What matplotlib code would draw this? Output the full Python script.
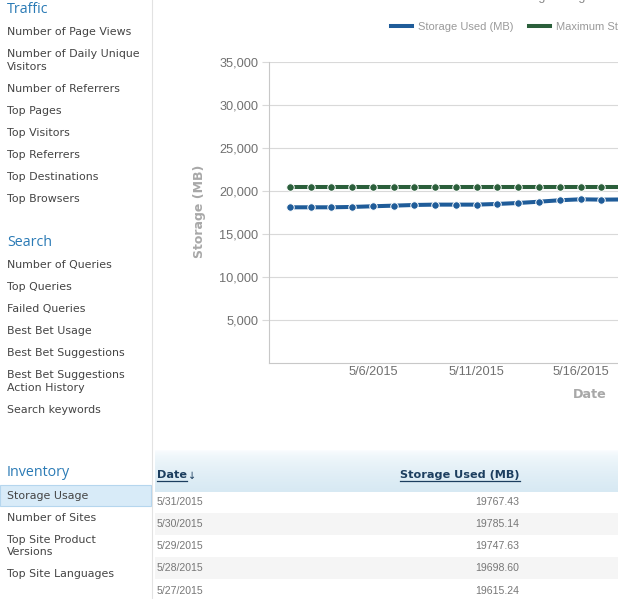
#!/usr/bin/env python3
import datetime as dt
import matplotlib
matplotlib.use("Agg")
import matplotlib.pyplot as plt
import matplotlib.dates as mdates
from matplotlib.lines import Line2D
from matplotlib.patches import Rectangle
from matplotlib.ticker import FuncFormatter, FixedLocator
import numpy as np

W, H = 618, 599

# left navigation menu
sections = ["Traffic", "Search", "Inventory"]
section_items = [
    ["Number of Page Views", "Number of Daily Unique\nVisitors", "Number of Referrers",
     "Top Pages", "Top Visitors", "Top Referrers", "Top Destinations", "Top Browsers"],
    ["Number of Queries", "Top Queries", "Failed Queries", "Best Bet Usage",
     "Best Bet Suggestions", "Best Bet Suggestions\nAction History", "Search keywords"],
    ["Storage Usage", "Number of Sites", "Top Site Product\nVersions", "Top Site Languages"],
]
selected_item = "Storage Usage"

# chart data (visible part of the chart)
chart_dates = [dt.date(2015, 5, d) for d in range(2, 19)]
storage_used = [18140, 18140, 18140, 18180, 18260, 18330, 18410, 18450, 18450,
                18450, 18530, 18640, 18790, 18960, 19070, 19030, 19050]
max_storage = [20480, 20480, 20480, 20480, 20480, 20480, 20480, 20480, 20480,
               20480, 20480, 20480, 20480, 20480, 20480, 20480, 20480]
series_names = ["Storage Used (MB)", "Maximum Storage (MB)"]
y_ticks = [5000, 10000, 15000, 20000, 25000, 30000, 35000]
x_ticks = [dt.date(2015, 5, 6), dt.date(2015, 5, 11), dt.date(2015, 5, 16)]

# table below the chart
table_headers = ["Date", "Storage Used (MB)"]
table_dates = ["5/31/2015", "5/30/2015", "5/29/2015", "5/28/2015", "5/27/2015"]
table_used = [19767.43, 19785.14, 19747.63, 19698.60, 19615.24]

BLUE = "#1f5c99"
GREEN = "#2b5f3b"
GRID = "#d9d9d9"

fig = plt.figure(figsize=(W / 100, H / 100), dpi=100)
fig.patch.set_facecolor("white")

# background layer in pixel coordinates
bg = fig.add_axes([0, 0, 1, 1])
bg.set_xlim(0, W)
bg.set_ylim(H, 0)
bg.axis("off")

# sidebar border
bg.plot([151.5, 151.5], [0, H], color="#e2e2e2", lw=0.8)

# sidebar menu
sec_y = [9.3, 242.3, 472.7]
for name, items, y0 in zip(sections, section_items, sec_y):
    bg.text(7, y0, name, family="Open Sans", fontsize=10.3, color="#2a7ab5",
            ha="left", va="center")
    y = y0 + 23
    for item in items:
        lines = item.split("\n")
        if item == selected_item:
            bg.add_patch(Rectangle((0, y - 10.5), 151, 21, fc="#d8ebf8",
                                   ec="#b5d6ee", lw=0.8))
        for i, ln in enumerate(lines):
            bg.text(7, y + i * 12.6, ln, family="DejaVu Sans", fontsize=7.9,
                    color="#444444", ha="left", va="center")
        y += 22 + 12.6 * (len(lines) - 1)

# clipped chart title
bg.text(508, -0.3, "Storage Usage", family="Liberation Sans", fontsize=9.1,
        color="#8a8a8a", ha="left", va="baseline")

# table header band (gradient)
grad = np.linspace(0, 1, 50) ** 0.6
c_top = np.array([0.985, 0.993, 0.998])
c_bot = np.array([0.843, 0.914, 0.953])
band = c_top[None, :] * (1 - grad[:, None]) + c_bot[None, :] * grad[:, None]
bg.imshow(band[:, None, :], extent=(155, W, 492, 450), aspect="auto",
          interpolation="bilinear", zorder=0)

# table rows
row_y0 = 501.7
row_h = 22.2
for i, (d, v) in enumerate(zip(table_dates, table_used)):
    yc = row_y0 + i * row_h
    if i % 2 == 1:
        bg.add_patch(Rectangle((155, yc - row_h / 2), W - 155, row_h,
                               fc="#f5f5f5", ec="none", zorder=0))
    bg.text(156.7, yc, d, family="Liberation Sans", fontsize=7.6,
            color="#777777", ha="left", va="center")
    bg.text(519.5, yc, f"{v:.2f}", family="Liberation Sans", fontsize=7.6,
            color="#777777", ha="right", va="center")

hdr_date = bg.text(157.3, 475, table_headers[0], family="DejaVu Sans",
                   fontweight="bold", fontsize=8.1, color="#1c3e5f",
                   ha="left", va="center")
hdr_used = bg.text(519.5, 475, table_headers[1], family="DejaVu Sans",
                   fontweight="bold", fontsize=8.1, color="#1c3e5f",
                   ha="right", va="center")

# chart
px_day = 20.77
ax_left, ax_bottom, ax_top = 269, 363.3, 62.3
ax = fig.add_axes([ax_left / W, 1 - ax_bottom / H, px_day * 31 / W,
                   (ax_bottom - ax_top) / H])
ax.set_facecolor("none")
ax.set_xlim(dt.date(2015, 5, 1), dt.date(2015, 6, 1))
ax.set_ylim(0, 35000)

ax.plot(chart_dates, max_storage, color=GREEN, lw=2.9, marker="o", ms=5.4,
        mec="white", mew=0.7, zorder=3)
ax.plot(chart_dates, storage_used, color=BLUE, lw=2.9, marker="o", ms=5.4,
        mec="white", mew=0.7, zorder=4)

ax.yaxis.set_major_locator(FixedLocator(y_ticks))
ax.yaxis.set_major_formatter(FuncFormatter(lambda v, p: f"{int(v):,}"))
ax.xaxis.set_major_locator(FixedLocator(mdates.date2num(x_ticks)))
ax.xaxis.set_major_formatter(FuncFormatter(
    lambda v, p: "{0.month}/{0.day}/{0.year}".format(mdates.num2date(v))))
ax.grid(axis="y", color=GRID, lw=0.8)
ax.set_axisbelow(True)
for s in ("top", "right"):
    ax.spines[s].set_visible(False)
for s in ("left", "bottom"):
    ax.spines[s].set_color("#c8c8c8")
    ax.spines[s].set_linewidth(0.8)
ax.tick_params(axis="y", length=5.3, width=0.8, color=GRID, pad=2.4,
               labelsize=9.2, labelcolor="#707070")
ax.tick_params(axis="x", length=0, pad=1.6, labelsize=9.2, labelcolor="#707070")
for lab in ax.get_xticklabels() + ax.get_yticklabels():
    lab.set_family("Liberation Sans")

ax_w = px_day * 31
ax_h = ax_bottom - ax_top
ax.set_ylabel("Storage (MB)", family="DejaVu Sans", fontweight="bold",
              fontsize=9.0, color="#a8a8a8", va="center", ha="center")
ax.yaxis.set_label_coords((200 - ax_left) / ax_w, (ax_bottom - 211.5) / ax_h)
ax.set_xlabel("Date", family="DejaVu Sans", fontweight="bold",
              fontsize=9.2, color="#a8a8a8", va="center", ha="center")
ax.xaxis.set_label_coords((590 - ax_left) / ax_w, -(394.3 - ax_bottom) / ax_h)

handles = [Line2D([], [], color=BLUE, lw=2.9), Line2D([], [], color=GREEN, lw=2.9)]
leg = ax.legend(handles, series_names, loc="center left",
                bbox_to_anchor=(391 / W, 1 - 26.7 / H), bbox_transform=fig.transFigure,
                ncol=2, frameon=False, handlelength=1.9, handletextpad=0.55,
                columnspacing=1.35, borderpad=0, borderaxespad=0,
                prop={"family": "Liberation Sans", "size": 8})
for t in leg.get_texts():
    t.set_color("#9a9a9a")

# underline the table header links and add the sort arrow
fig.canvas.draw()
inv = bg.transData.inverted()
for t in (hdr_date, hdr_used):
    bb = t.get_window_extent()
    (x0, _), (x1, _) = inv.transform([[bb.x0, bb.y0], [bb.x1, bb.y1]])
    bg.plot([x0, x1], [480.6, 480.6], color="#1c3e5f", lw=0.9)
bb = hdr_date.get_window_extent()
xa = inv.transform([[bb.x1, bb.y0]])[0][0]
bg.text(xa + 0.5, 475.5, "\u2193", family="DejaVu Sans", fontsize=7,
        color="#1c3e5f", ha="left", va="center")

fig.savefig("out.png", dpi=100)
